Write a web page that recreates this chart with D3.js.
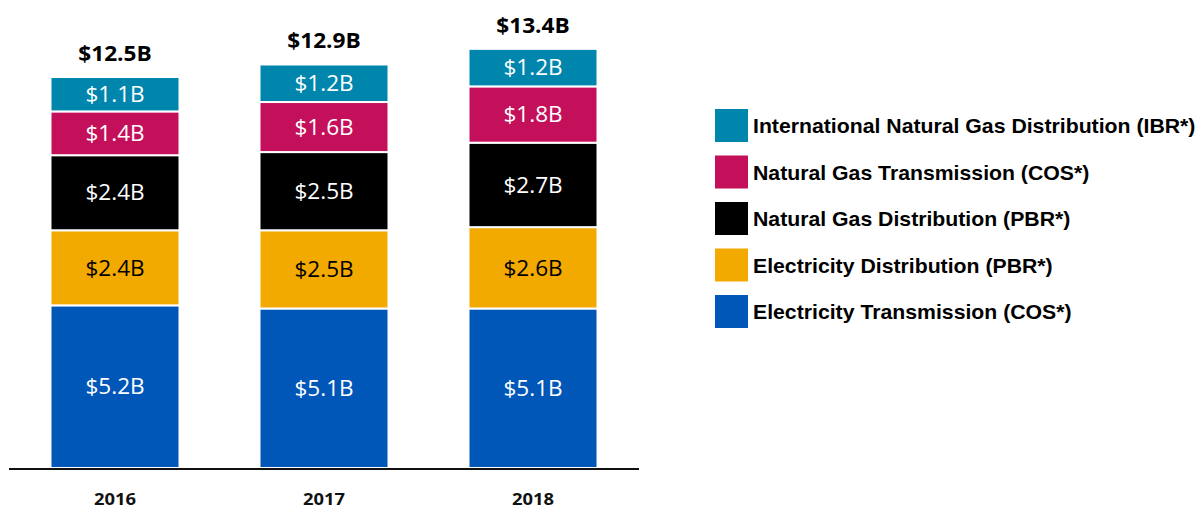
<!DOCTYPE html>
<html><head><meta charset="utf-8">
<script src="https://cdn.jsdelivr.net/npm/d3@7"></script>
<style>body{margin:0;background:#fff}svg{display:block}</style>
</head><body>
<svg id="c" width="1197" height="510"></svg>
<script>
const years = ["2016", "2017", "2018"];
const seriesNames = ["Electricity Transmission (COS*)", "Electricity Distribution (PBR*)", "Natural Gas Distribution (PBR*)", "Natural Gas Transmission (COS*)", "International Natural Gas Distribution (IBR*)"];
const elecTransmission = [5.2, 5.1, 5.1];
const elecDistribution = [2.4, 2.5, 2.6];
const gasDistribution = [2.4, 2.5, 2.7];
const gasTransmission = [1.4, 1.6, 1.8];
const intlGasDistribution = [1.1, 1.2, 1.2];
const totals = [12.5, 12.9, 13.4];
const colors = ["#0057B8", "#F2A900", "#000000", "#C40F5A", "#0086AD"];
const labelColors = ["#fff", "#000", "#fff", "#fff", "#fff"];

const seriesVals = [elecTransmission, elecDistribution, gasDistribution, gasTransmission, intlGasDistribution];
const table = years.map((y, i) => {
  const o = {year: y};
  seriesNames.forEach((s, k) => o[s] = seriesVals[k][i]);
  return o;
});
const stack = d3.stack().keys(seriesNames)(table);

const svg = d3.select("#c");
const y = d3.scaleLinear().domain([0, 12.5]).range([468, 77]);
const bx = d3.scalePoint().domain(years).range([115, 533]);
const bw = 129;
const fmt = v => "$" + d3.format(".1f")(v) + "B";

const g = svg.append("g");
stack.forEach((layer, k) => {
  const lg = g.append("g");
  lg.selectAll("rect").data(layer).join("rect")
    .attr("x", (d, i) => bx(years[i]) - bw / 2)
    .attr("width", bw)
    .attr("y", d => y(d[1]))
    .attr("height", d => y(d[0]) - y(d[1]))
    .attr("fill", colors[k])
    .attr("stroke", "#fff").attr("stroke-width", 2);
  lg.selectAll("text").data(layer).join("text")
    .attr("transform", (d, i) => `translate(${bx(years[i])},${(y(d[0]) + y(d[1])) / 2}) scale(1.05,1)`)
    .attr("dy", "0.36em")
    .attr("text-anchor", "middle")
    .attr("font-family", "'Open Sans', sans-serif")
    .attr("font-size", 21.5)
    .attr("fill", labelColors[k])
    .text(d => fmt(d[1] - d[0]));
});

g.selectAll("text.total").data(totals).join("text").attr("class", "total")
  .attr("transform", (d, i) => `translate(${bx(years[i])},${y(d) - 16}) scale(1.08,1)`)
  .attr("text-anchor", "middle")
  .attr("font-family", "'Open Sans', sans-serif")
  .attr("font-weight", "bold")
  .attr("font-size", 21)
  .attr("fill", "#000")
  .text(d => fmt(d));

const axis = svg.append("g").attr("transform", "translate(0,469)");
axis.append("line").attr("x1", 9).attr("x2", 639).attr("stroke", "#111").attr("stroke-width", 2);
axis.selectAll("text").data(years).join("text")
  .attr("transform", d => `translate(${bx(d)},36) scale(1.15,1)`)
  .attr("text-anchor", "middle")
  .attr("font-family", "'Open Sans', sans-serif")
  .attr("font-weight", "bold")
  .attr("font-size", 16)
  .attr("fill", "#111")
  .text(d => d);

const legOrder = [4, 3, 2, 1, 0];
const leg = svg.append("g");
legOrder.forEach((k, j) => {
  const yy = 109 + j * 46.5;
  leg.append("rect").attr("x", 715).attr("y", yy).attr("width", 33).attr("height", 33).attr("fill", colors[k]);
  leg.append("text")
    .attr("transform", `translate(753,${yy + 17}) scale(1.09,1)`)
    .attr("dy", "0.36em")
    .attr("font-family", "'Liberation Sans', Arial, sans-serif")
    .attr("font-weight", "bold").attr("font-size", 19.5).attr("fill", "#000")
    .text(seriesNames[k]);
});
</script>
</body></html>
